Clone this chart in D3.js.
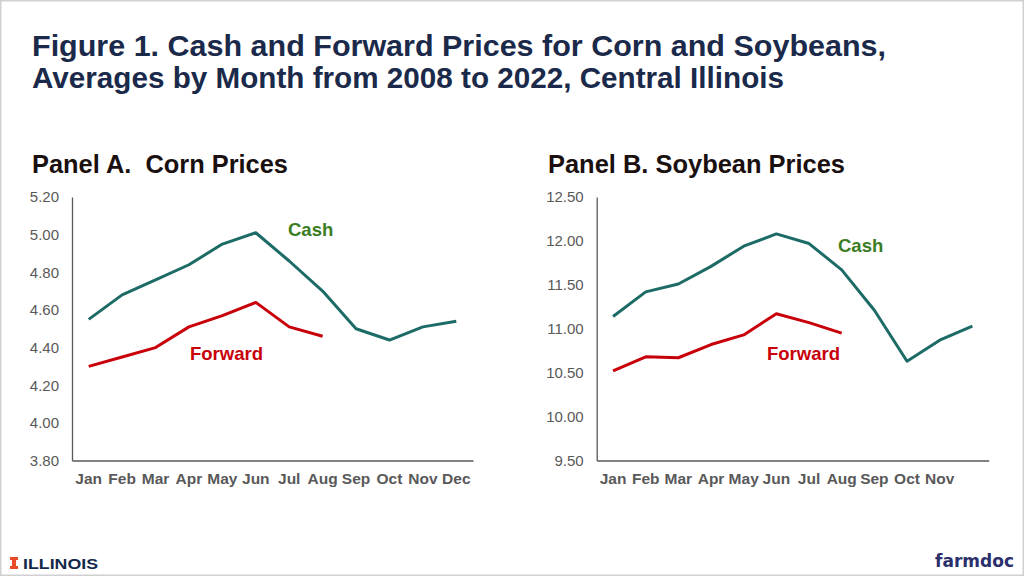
<!DOCTYPE html>
<html>
<head>
<meta charset="utf-8">
<script src="https://cdn.jsdelivr.net/npm/d3@7"></script>
<style>
  html, body { margin: 0; padding: 0; background: #fff; }
  svg { display: block; font-family: "Liberation Sans", Arial, sans-serif; }
</style>
</head>
<body>
<svg id="chart" width="1024" height="576"></svg>
<script>
// ---- Data ----
const months = ["Jan","Feb","Mar","Apr","May","Jun","Jul","Aug","Sep","Oct","Nov","Dec"];
const cornTickLabels = ["Jan","Feb","Mar","Apr","May","Jun","Jul","Aug","Sep","Oct","Nov","Dec"];
const soyTickLabels = ["Jan","Feb","Mar","Apr","May","Jun","Jul","Aug","Sep","Oct","Nov",""];
const cornCash = [4.55, 4.68, 4.76, 4.84, 4.95, 5.01, 4.86, 4.70, 4.50, 4.44, 4.51, 4.54];
const cornForward = [4.30, 4.35, 4.40, 4.51, 4.57, 4.64, 4.51, 4.46];
const soyCash = [11.14, 11.42, 11.51, 11.71, 11.94, 12.08, 11.97, 11.67, 11.21, 10.63, 10.87, 11.03];
const soyForward = [10.52, 10.68, 10.67, 10.82, 10.93, 11.17, 11.07, 10.95];
const cornYTicks = [3.8, 4.0, 4.2, 4.4, 4.6, 4.8, 5.0, 5.2];
const soyYTicks = [9.5, 10.0, 10.5, 11.0, 11.5, 12.0, 12.5];

const svg = d3.select("#chart");

// frame
svg.append("rect").attr("x", 0.75).attr("y", 0.75).attr("width", 1022.5).attr("height", 574.5)
  .attr("fill", "#fff").attr("stroke", "#d0d0d0").attr("stroke-width", 1.5);

// title
const title = svg.append("text").attr("fill", "#1b2a4a").attr("font-weight", "bold").attr("font-size", 30);
title.append("tspan").attr("x", 32).attr("y", 56).attr("textLength", 854).attr("lengthAdjust", "spacingAndGlyphs")
  .text("Figure 1. Cash and Forward Prices for Corn and Soybeans,");
title.append("tspan").attr("x", 32).attr("y", 88).attr("textLength", 752).attr("lengthAdjust", "spacingAndGlyphs")
  .text("Averages by Month from 2008 to 2022, Central Illinois");

function panel(opts) {
  const g = svg.append("g");
  const x = d3.scaleBand().domain(months).range([opts.x0, opts.x1]);
  const y = d3.scaleLinear().domain(opts.domain).range([460.5, 197]);

  g.append("text").attr("x", opts.titleX).attr("y", 173)
    .attr("font-size", 25).attr("font-weight", "bold").attr("fill", "#1a1010")
    .attr("textLength", opts.titleW).attr("lengthAdjust", "spacingAndGlyphs")
    .style("white-space", "pre").text(opts.title);

  // y axis
  const ya = d3.axisLeft(y).tickValues(opts.yTicks).tickSize(0).tickPadding(13)
    .tickFormat(d3.format(".2f"));
  const yg = g.append("g").attr("transform", `translate(${opts.x0},0)`).call(ya);
  yg.select(".domain").attr("stroke", "#595959").attr("stroke-width", 1.3);
  yg.selectAll("text").attr("fill", "#595959").attr("font-size", 15)
    .attr("font-family", "Liberation Sans, Arial, sans-serif");

  // x axis
  const xa = d3.axisBottom(x).tickSize(0).tickPadding(12)
    .tickFormat((d, i) => opts.xLabels[i]);
  const xg = g.append("g").attr("transform", `translate(0,460.5)`).call(xa);
  xg.select(".domain").attr("stroke", "#595959").attr("stroke-width", 1.3);
  xg.selectAll("text").attr("fill", "#595959").attr("font-size", 15.5).attr("font-weight", "bold")
    .attr("font-family", "Liberation Sans, Arial, sans-serif");

  const line = d3.line().x((d, i) => x(months[i]) + x.bandwidth() / 2).y(d => y(d));
  g.append("path").datum(opts.cash).attr("d", line).attr("fill", "none")
    .attr("stroke", "#1d6b66").attr("stroke-width", 3).attr("stroke-linejoin", "round");
  g.append("path").datum(opts.forward).attr("d", line).attr("fill", "none")
    .attr("stroke", "#c8000a").attr("stroke-width", 3).attr("stroke-linejoin", "round");

  g.append("text").attr("x", opts.cashLabel[0]).attr("y", opts.cashLabel[1])
    .attr("font-size", 18.5).attr("font-weight", "bold").attr("fill", "#3a7d22").text("Cash");
  g.append("text").attr("x", opts.fwdLabel[0]).attr("y", opts.fwdLabel[1])
    .attr("font-size", 18.5).attr("font-weight", "bold").attr("fill", "#c8000a").text("Forward");
}

panel({
  title: "Panel A.  Corn Prices", titleX: 32, titleW: 256,
  x0: 72, x1: 473, domain: [3.8, 5.2], yTicks: cornYTicks, xLabels: cornTickLabels,
  cash: cornCash, forward: cornForward,
  cashLabel: [288, 236], fwdLabel: [190, 360]
});
panel({
  title: "Panel B. Soybean Prices", titleX: 548, titleW: 297,
  x0: 596.7, x1: 988.7, domain: [9.5, 12.5], yTicks: soyYTicks, xLabels: soyTickLabels,
  cash: soyCash, forward: soyForward,
  cashLabel: [838, 252], fwdLabel: [767, 360]
});

// footer logos
const logo = svg.append("g");
logo.append("path")
  .attr("d", "M10,557 h8 v3 h-2 v6 h2 v3 h-8 v-3 h2 v-6 h-2 z")
  .attr("fill", "#e84a27");
logo.append("text").attr("x", 23).attr("y", 569).attr("font-size", 15.5).attr("font-weight", "bold")
  .attr("fill", "#13294b").attr("textLength", 75).attr("lengthAdjust", "spacingAndGlyphs").text("ILLINOIS");
svg.append("text").attr("x", 1014).attr("y", 567).attr("text-anchor", "end")
  .attr("font-size", 17).attr("font-weight", "bold").attr("fill", "#2b2f6b")
  .attr("font-family", "DejaVu Sans, sans-serif").text("farmdoc");
</script>
</body>
</html>
